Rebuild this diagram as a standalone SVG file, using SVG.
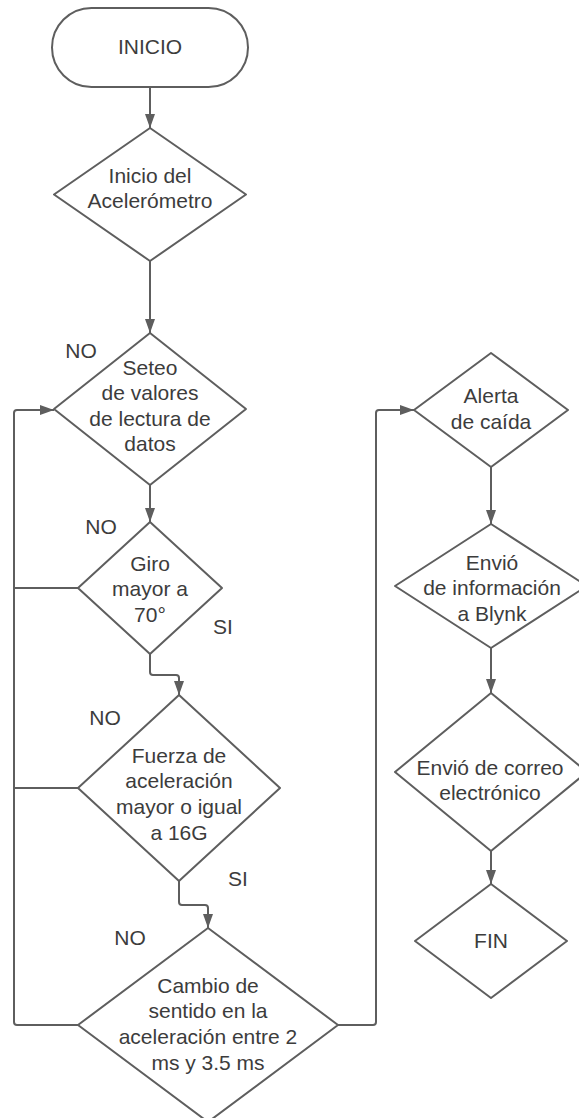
<svg xmlns="http://www.w3.org/2000/svg" width="579" height="1118" viewBox="0 0 579 1118">
  <defs>
    <style>
      .shape { fill: #ffffff; stroke: #5e5e5e; stroke-width: 2; stroke-linejoin: round; }
      .edge { fill: none; stroke: #5e5e5e; stroke-width: 2; }
      .label { font-family: "Liberation Sans", Arial, sans-serif; font-size: 21px; fill: #3c3c3c; text-anchor: middle; }
    </style>
    <marker id="arrow" markerUnits="userSpaceOnUse" markerWidth="14" markerHeight="10" refX="14" refY="5" orient="auto">
      <path d="M0,0 L14,5 L0,10 z" fill="#5e5e5e"/>
    </marker>
  </defs>
  <rect width="579" height="1118" fill="#ffffff"/>

  <!-- connectors -->
  <g id="connectors">
    <path class="edge" d="M150,87 V128" marker-end="url(#arrow)"/>
    <path class="edge" d="M150,261 V333" marker-end="url(#arrow)"/>
    <path class="edge" d="M150,485 V522" marker-end="url(#arrow)"/>
    <path class="edge" d="M150,654 V672 Q150,675 153,675 H176 Q179,675 179,678 V695" marker-end="url(#arrow)"/>
    <path class="edge" d="M179,881 V902 Q179,905 182,905 H205 Q208,905 208,908 V928" marker-end="url(#arrow)"/>
    <path class="edge" d="M78,588 H14"/>
    <path class="edge" d="M78,788 H14"/>
    <path class="edge" d="M78,1025 H17 Q14,1025 14,1022 V413 Q14,410 17,410 H54" marker-end="url(#arrow)"/>
    <path class="edge" d="M338,1025 H373 Q376,1025 376,1022 V413 Q376,410 379,410 H414" marker-end="url(#arrow)"/>
    <path class="edge" d="M491,467 V524" marker-end="url(#arrow)"/>
    <path class="edge" d="M491,648 V693" marker-end="url(#arrow)"/>
    <path class="edge" d="M491,851 V884" marker-end="url(#arrow)"/>
  </g>

  <!-- branch labels -->
  <g id="branch-labels">
    <text class="label" x="81" y="358">NO</text>
    <text class="label" x="101" y="533.5">NO</text>
    <text class="label" x="223" y="633.5">SI</text>
    <text class="label" x="105" y="724.5">NO</text>
    <text class="label" x="238" y="885.5">SI</text>
    <text class="label" x="130" y="944.5">NO</text>
  </g>

  <g id="inicio">
    <rect class="shape" x="52" y="8" width="196" height="79" rx="39.5" ry="39.5"/>
    <text class="label" x="150" y="54">INICIO</text>
  </g>

  <g id="inicio-acelerometro">
    <polygon class="shape" points="150,128 246,194.5 150,261 54,194.5"/>
    <text class="label" x="150" y="182.5">Inicio del</text>
    <text class="label" x="150" y="207.5">Acelerómetro</text>
  </g>

  <g id="seteo-valores">
    <polygon class="shape" points="150,333 246,409 150,485 54,409"/>
    <text class="label" x="150" y="374.5">Seteo</text>
    <text class="label" x="150" y="400">de valores</text>
    <text class="label" x="150" y="425.5">de lectura de</text>
    <text class="label" x="150" y="451">datos</text>
  </g>

  <g id="giro">
    <polygon class="shape" points="150,522 222,588 150,654 78,588"/>
    <text class="label" x="150" y="570.5">Giro</text>
    <text class="label" x="150" y="596">mayor a</text>
    <text class="label" x="150" y="621.5">70°</text>
  </g>

  <g id="fuerza">
    <polygon class="shape" points="179,695 280,788 179,881 78,788"/>
    <text class="label" x="179" y="762.5">Fuerza de</text>
    <text class="label" x="179" y="788">aceleración</text>
    <text class="label" x="179" y="813.5">mayor o igual</text>
    <text class="label" x="179" y="839.5">a 16G</text>
  </g>

  <g id="cambio-sentido">
    <polygon class="shape" points="208,928 338,1025 208,1122 78,1025"/>
    <text class="label" x="208" y="992.5">Cambio de</text>
    <text class="label" x="208" y="1018">sentido en la</text>
    <text class="label" x="208" y="1044">aceleración entre 2</text>
    <text class="label" x="208" y="1070">ms y 3.5 ms</text>
  </g>

  <g id="alerta">
    <polygon class="shape" points="491,353 568,410 491,467 414,410"/>
    <text class="label" x="491" y="402.5">Alerta</text>
    <text class="label" x="491" y="429">de caída</text>
  </g>

  <g id="envio-blynk">
    <polygon class="shape" points="491,524 587,586 491,648 395,586"/>
    <text class="label" x="492" y="569.5">Envió</text>
    <text class="label" x="492" y="595">de información</text>
    <text class="label" x="492" y="620.5">a Blynk</text>
  </g>

  <g id="envio-correo">
    <polygon class="shape" points="491,693 587,772 491,851 395,772"/>
    <text class="label" x="490" y="774.5">Envió de correo</text>
    <text class="label" x="490" y="800">electrónico</text>
  </g>

  <g id="fin">
    <polygon class="shape" points="491,884 567,941 491,998 415,941"/>
    <text class="label" x="491" y="948">FIN</text>
  </g>
</svg>
